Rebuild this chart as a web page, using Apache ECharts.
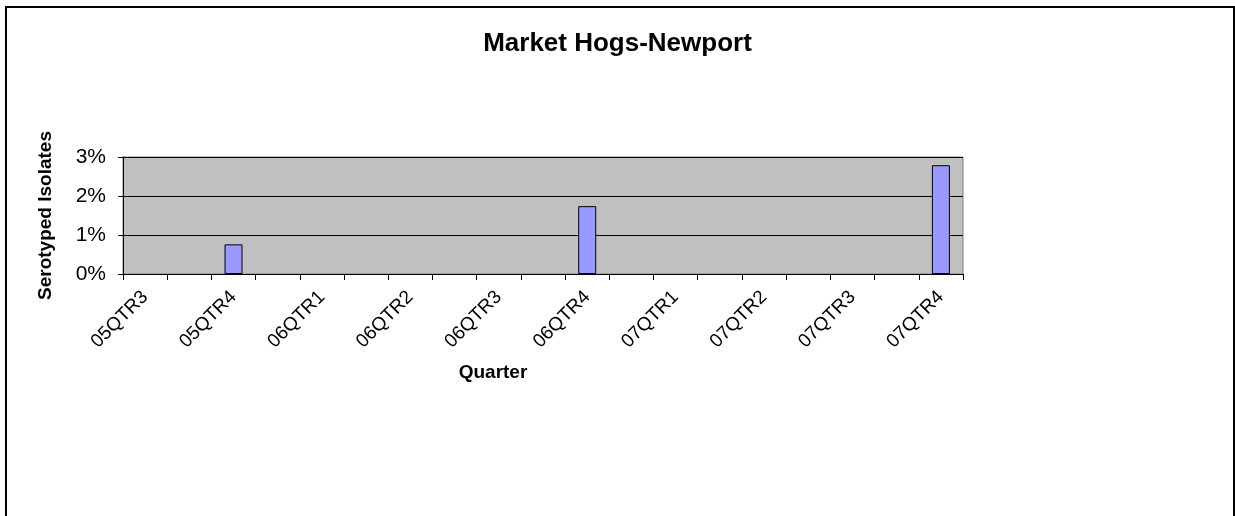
<!DOCTYPE html>
<html>
<head>
<meta charset="utf-8">
<title>Market Hogs-Newport</title>
<script src="https://cdn.jsdelivr.net/npm/echarts@6/dist/echarts.min.js"></script>
<style>
  html, body { margin: 0; padding: 0; background: #fff; }
  #chart { width: 1235px; height: 516px; }
</style>
</head>
<body>
<div id="chart"></div>
<script>
// 19 category slots, only every other one carries a label in the source chart
const quarters = ['05QTR3', '', '05QTR4', '', '06QTR1', '', '06QTR2', '', '06QTR3', '',
  '06QTR4', '', '07QTR1', '', '07QTR2', '', '07QTR3', '', '07QTR4']
// percent of serotyped isolates (null = no isolate, no bar)
const isolatePct = [null, null, 0.76, null, null, null, null, null, null, null,
  1.74, null, null, null, null, null, null, null, 2.79]
const yTicks = [0, 1, 2, 3]

const font = 'Liberation Sans, Arial, sans-serif'
const chart = echarts.init(document.getElementById('chart'))

chart.setOption({
  backgroundColor: '#fff',
  animation: false,
  title: {
    text: 'Market Hogs-Newport',
    left: 'center',
    top: 26,
    textStyle: { fontFamily: font, fontSize: 26, fontWeight: 'bold', color: '#000' }
  },
  graphic: [{
    type: 'rect',
    shape: { x: 6, y: 7, width: 1228, height: 530 },
    style: { fill: 'none', stroke: '#000', lineWidth: 2 },
    silent: true
  }],
  grid: {
    left: 123, right: 272, top: 157, bottom: 242,
    show: true,
    backgroundColor: '#c0c0c0',
    borderColor: '#808080',
    borderWidth: 1
  },
  xAxis: {
    type: 'category',
    data: quarters,
    name: 'Quarter',
    nameLocation: 'middle',
    nameGap: 89,
    nameTextStyle: { fontFamily: font, fontSize: 19, fontWeight: 'bold', color: '#000', padding: [0, 100, 0, 0] },
    axisLine: { lineStyle: { color: '#000', width: 1 } },
    axisTick: { show: true, interval: 0, length: 6, lineStyle: { color: '#000' } },
    axisLabel: {
      interval: 1,
      rotate: 45,
      margin: 20,
      fontFamily: font,
      fontSize: 19,
      color: '#000'
    },
    splitLine: { show: false }
  },
  yAxis: {
    type: 'value',
    min: yTicks[0],
    max: yTicks[yTicks.length - 1],
    interval: 1,
    name: 'Serotyped Isolates',
    nameLocation: 'middle',
    nameGap: 68,
    nameTextStyle: { fontFamily: font, fontSize: 19, fontWeight: 'bold', color: '#000' },
    axisLine: { show: true, lineStyle: { color: '#000', width: 1 } },
    axisTick: { show: true, length: 5, lineStyle: { color: '#000' } },
    axisLabel: {
      formatter: '{value}%',
      margin: 17,
      fontFamily: font,
      fontSize: 21,
      color: '#000'
    },
    splitLine: { show: true, lineStyle: { color: '#000', width: 1 } }
  },
  series: [{
    type: 'bar',
    data: isolatePct,
    barWidth: 18,
    itemStyle: { color: '#9999ff', borderColor: '#000', borderWidth: 1 }
  }]
})
</script>
</body>
</html>
